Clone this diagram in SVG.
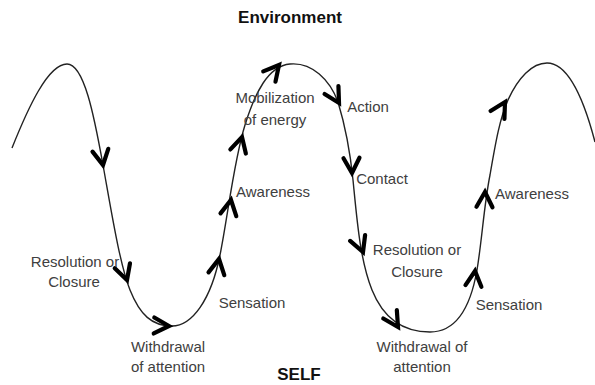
<svg xmlns="http://www.w3.org/2000/svg" xmlns:xlink="http://www.w3.org/1999/xlink" width="595" height="385" viewBox="0 0 595 385">
  <style>
    .title { font-family: "Liberation Sans", Arial, sans-serif; font-weight: bold; font-size: 17px; fill: #111; text-anchor: middle; }
    .lbl { font-family: "Liberation Sans", Arial, sans-serif; font-size: 15px; fill: #404040; text-anchor: middle; }
    .wave { fill: none; stroke: #222; stroke-width: 1.4; }
    .chev { fill: none; stroke: #000; stroke-width: 4.2; stroke-linecap: round; stroke-linejoin: miter; }
  </style>
  <defs>
    <!-- open chevron arrowhead, tip at origin, pointing along +x -->
    <path id="chev" class="chev" d="M-15,-8 L0,0 L-15,8"/>
  </defs>

  <rect width="595" height="385" fill="#fff"/>

  <g id="title-environment"><text class="title" x="290" y="23">Environment</text></g>
  <g id="title-self"><text class="title" x="299" y="380">SELF</text></g>

  <g id="connectors">
    <path class="wave" d="M12,148 C28,108 48,64 67,64 C84,64 94,115 103,165 C112,215 120,265 130,290 C140,315 152,326 172,326 C192,326 211,300 220,255 C228,215 234,160 245,125 C255,93 268,66 290,64 C312,62 330,80 338,102 C345,125 350,150 353,180 C357,220 360,260 372,290 C382,315 400,332 430,332 C455,332 470,310 477,270 C482,240 484,205 490,175 C496,140 500,118 508,100 C518,78 532,63 547,63 C568,63 584,100 595,142"/>
    <use xlink:href="#chev" transform="translate(103,165) rotate(80)"/>
    <use xlink:href="#chev" transform="translate(127,280) rotate(72)"/>
    <use xlink:href="#chev" transform="translate(169,326) rotate(2)"/>
    <use xlink:href="#chev" transform="translate(219,259) rotate(-80)"/>
    <use xlink:href="#chev" transform="translate(231,200) rotate(-80)"/>
    <use xlink:href="#chev" transform="translate(242,137) rotate(-75)"/>
    <use xlink:href="#chev" transform="translate(279,65) rotate(-50)"/>
    <use xlink:href="#chev" transform="translate(339,103) rotate(60)"/>
    <use xlink:href="#chev" transform="translate(352,173) rotate(88)"/>
    <use xlink:href="#chev" transform="translate(363,252) rotate(69)"/>
    <use xlink:href="#chev" transform="translate(398,327) rotate(58)"/>
    <use xlink:href="#chev" transform="translate(475,271) rotate(-84)"/>
    <use xlink:href="#chev" transform="translate(485,192) rotate(-88)"/>
    <use xlink:href="#chev" transform="translate(505,102) rotate(-60)"/>
  </g>

  <g id="resolution-left"><text class="lbl" x="75" y="267">Resolution or</text><text class="lbl" x="74" y="287">Closure</text></g>
  <g id="withdrawal-left"><text class="lbl" x="168" y="352">Withdrawal</text><text class="lbl" x="168" y="372">of attention</text></g>
  <g id="sensation-left"><text class="lbl" x="252" y="308">Sensation</text></g>
  <g id="awareness-left"><text class="lbl" x="273" y="197">Awareness</text></g>
  <g id="mobilization"><text class="lbl" x="275" y="103">Mobilization</text><text class="lbl" x="275" y="125">of energy</text></g>
  <g id="action"><text class="lbl" x="368" y="112">Action</text></g>
  <g id="contact"><text class="lbl" x="382" y="184">Contact</text></g>
  <g id="resolution-right"><text class="lbl" x="417" y="255">Resolution or</text><text class="lbl" x="417" y="277">Closure</text></g>
  <g id="withdrawal-right"><text class="lbl" x="422" y="352">Withdrawal of</text><text class="lbl" x="422" y="372">attention</text></g>
  <g id="sensation-right"><text class="lbl" x="509" y="310">Sensation</text></g>
  <g id="awareness-right"><text class="lbl" x="532" y="199">Awareness</text></g>
</svg>
